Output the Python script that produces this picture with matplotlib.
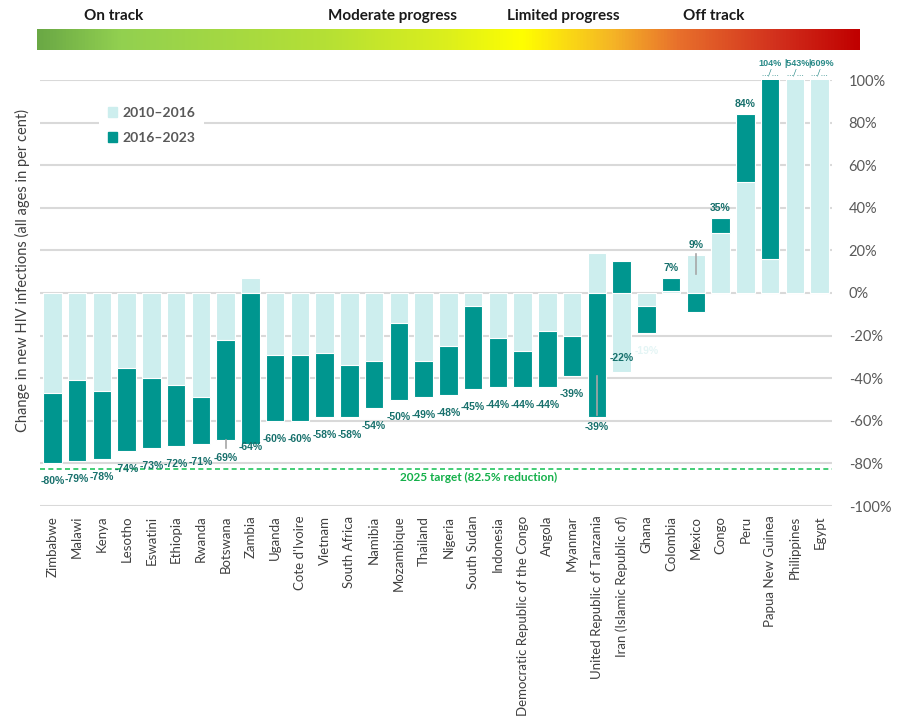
import matplotlib
matplotlib.use("Agg")
import matplotlib.pyplot as plt
import numpy as np
from matplotlib.colors import LinearSegmentedColormap
from matplotlib.patches import Patch

countries = ['Zimbabwe', 'Malawi', 'Kenya', 'Lesotho', 'Eswatini', 'Ethiopia', 'Rwanda',
             'Botswana', 'Zambia', 'Uganda', "Cote d'Ivoire", 'Vietnam', 'South Africa',
             'Namibia', 'Mozambique', 'Thailand', 'Nigeria', 'South Sudan', 'Indonesia',
             'Democratic Republic of the Congo', 'Angola', 'Myanmar',
             'United Republic of Tanzania', 'Iran (Islamic Republic of)', 'Ghana', 'Colombia',
             'Mexico', 'Congo', 'Peru', 'Papua New Guinea', 'Philippines', 'Egypt']
change_2010_2016 = [-47, -41, -46, -35, -40, -43, -49, -22, 7, -29, -29, -28, -34, -32, -14,
                    -32, -25, -6, -21, -27, -18, -20, 19, -37, -6, 1, 18, 28, 52, 16, 543, 609]
change_2016_2023 = [-33, -38, -32, -39, -33, -29, -22, -47, -71, -31, -31, -30, -24, -22, -36,
                    -17, -23, -39, -23, -17, -26, -19, -58, 15, -13, 6, -9, 7, 32, 88, 0, 0]
target = -82.5
progress_labels = ['On track', 'Moderate progress', 'Limited progress', 'Off track']

LIGHT = '#cdeeee'
DARK = '#00968f'
LABEL = '#17706c'
GRID = '#d9d9d9'

plt.rcParams['font.family'] = ['Lato', 'DejaVu Sans']

fig = plt.figure(figsize=(9.06, 7.2), dpi=100)
ax = fig.add_axes([40 / 906, 1 - 506 / 720, 792 / 906, 426 / 720])

x = np.arange(len(countries))
light = np.array(change_2010_2016, dtype=float)
dark = np.array(change_2016_2023, dtype=float)

# excel-style stacking: positives go up from 0, negatives go down from 0
pos = np.zeros(len(x))
neg = np.zeros(len(x))
for vals, col in [(light, LIGHT), (dark, DARK)]:
    bottom = np.where(vals >= 0, pos, neg)
    ax.bar(x, vals, 0.75, bottom=bottom, color=col, edgecolor='white', linewidth=0.8, zorder=2)
    pos = pos + np.clip(vals, 0, None)
    neg = neg + np.clip(vals, None, 0)

total = light + dark

ax.set_xlim(-0.5, len(x) - 0.5)
ax.set_ylim(-100, 100)
ax.set_yticks(np.arange(-100, 101, 20))
ax.set_yticklabels([f'{v}%' for v in range(-100, 101, 20)])
ax.yaxis.tick_right()
ax.tick_params(axis='y', length=0, pad=12, labelsize=10.5, labelcolor='#595959')
ax.set_xticks(x)
ax.set_xticklabels(countries, rotation=90, fontsize=9.5, color='#404040')
ax.tick_params(axis='x', length=0, pad=7)
ax.grid(axis='y', color=GRID, linewidth=1.5, zorder=0)
for s in ax.spines.values():
    s.set_visible(False)

# target line
ax.axhline(target, color='#22c55e', linestyle=(0, (3, 2)), linewidth=1.2, zorder=3)
ax.annotate('2025 target (82.5% reduction)', xy=(17.2, target), xytext=(0, -9),
            textcoords='offset pixels', ha='center', va='center', fontsize=8.5,
            fontweight='bold', color='#14b04a')

# data labels
special = {'United Republic of Tanzania': -51, 'Mexico': 29}
leaders = {'Botswana': (-69, -73), 'United Republic of Tanzania': (-39, -57.5),
           'Mexico': (9, 18.5)}
for i, c in enumerate(countries):
    t = total[i]
    txt = f'{t:.0f}%'
    if t > 100:
        lab = txt if c == 'Papua New Guinea' else '|' + txt
        dx = 0 if c == 'Papua New Guinea' else 2
        ax.annotate(lab, xy=(i, 100), xytext=(dx, 17), textcoords='offset pixels',
                    ha='center', va='center', fontsize=6.5, fontweight='bold',
                    color='#2a8a88', family='Liberation Sans', annotation_clip=False)
        ax.annotate('…/…', xy=(i, 100), xytext=(0, 7), textcoords='offset pixels',
                    ha='center', va='center', fontsize=6.5, color='#2a8a88',
                    annotation_clip=False)
        continue
    off = special.get(c, 10 if t > 0 else -18)
    col = '#e4f5f5' if c == 'Ghana' else LABEL
    ax.annotate(txt, xy=(i, t), xytext=(0, off), textcoords='offset pixels',
                ha='center', va='center', fontsize=7.5, fontweight='bold',
                color=col, family='Liberation Sans', zorder=5)
    if c in leaders:
        y0, y1 = leaders[c]
        ax.plot([i, i], [y0, y1], color='#a6a6a6', linewidth=1.2, zorder=4)

# legend
handles = [Patch(color=LIGHT, label='2010–2016'), Patch(color=DARK, label='2016–2023')]
leg = ax.legend(handles=handles, loc='upper left', bbox_to_anchor=(0.066, 0.972),
                frameon=True, facecolor='white', edgecolor='none', fancybox=False,
                framealpha=1, handlelength=0.7, handleheight=0.7, handletextpad=0.4,
                labelspacing=0.9, borderpad=0.6, fontsize=10)
for t in leg.get_texts():
    t.set_fontweight('bold')
    t.set_color('#595959')

fig.text(0.025, 1 - 271 / 720, 'Change in new HIV infections (all ages in per cent)',
         rotation=90, ha='center', va='center', fontsize=10.5, color='#404040')

# progress gradient bar on top
cmap = LinearSegmentedColormap.from_list('progress', [
    (0.0, '#6aa845'), (0.1, '#92d050'), (0.35, '#b5e035'), (0.5, '#dcef1c'),
    (0.59, '#ffff00'), (0.7, '#f5b526'), (0.78, '#e8702c'), (0.9, '#d2301d'),
    (1.0, '#c00000')])
gax = fig.add_axes([37 / 906, 1 - 50 / 720, 823 / 906, 21 / 720])
gax.imshow(np.linspace(0, 1, 512).reshape(1, -1), cmap=cmap, aspect='auto')
gax.axis('off')

for lab, px in zip(progress_labels, [114, 392, 563, 714]):
    fig.text(px / 906, 1 - 16 / 720, lab, ha='center', va='center', fontsize=11,
             fontweight='bold', color='#1a1a1a')

fig.savefig('out.png', dpi=100)
